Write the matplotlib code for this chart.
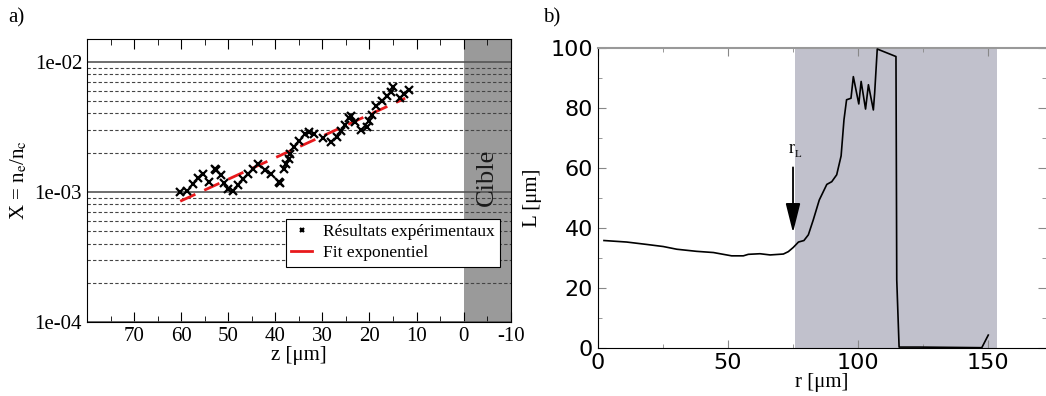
import numpy as np
import matplotlib
matplotlib.use('Agg')
import matplotlib.pyplot as plt
from matplotlib.ticker import FixedLocator, FixedFormatter, MultipleLocator, NullFormatter

plt.rcParams['mathtext.fontset'] = 'stix'
plt.rcParams['axes.unicode_minus'] = False

# ---- panel a) : densité en fonction de z
z_exp = [60.2, 58.8, 57.5, 56.5, 55.3, 54.0, 52.8, 52.5, 51.5, 50.9, 50.0, 49.0,
         47.9, 46.8, 45.8, 44.8, 43.6, 42.2, 40.9, 39.2, 39.0, 38.1, 37.7, 37.1,
         36.8, 36.1, 34.9, 33.7, 32.9, 31.7, 29.8, 28.1, 26.9, 26.1, 25.2, 24.4,
         24.0, 23.0, 21.8, 20.6, 20.0, 19.5, 18.6, 17.4, 16.3, 15.5, 14.9, 13.6,
         12.6, 11.7]
logx_exp = [-3.000, -2.990, -2.936, -2.897, -2.864, -2.923, -2.823, -2.833, -2.872, -2.931,
            -2.977, -2.997, -2.951, -2.905, -2.862, -2.823, -2.785, -2.833, -2.864, -2.923,
            -2.935, -2.828, -2.785, -2.751, -2.713, -2.654, -2.608, -2.559, -2.541, -2.559,
            -2.585, -2.618, -2.577, -2.529, -2.486, -2.430, -2.420, -2.462, -2.526, -2.500,
            -2.454, -2.410, -2.341, -2.305, -2.266, -2.233, -2.197, -2.276, -2.248, -2.220]
x_exp = [10 ** v for v in logx_exp]

# fit exponentiel (extrémités de la droite en échelle log)
z_fit = [60.2, 12.4]
x_fit = [8.47e-4, 5.24e-3]

ytick_vals = [1e-4, 1e-3, 1e-2]
ytick_labels = ['1e-04', '1e-03', '1e-02']

# ---- panel b) : L en fonction de r
r_vals = [2.3, 11, 18.7, 25.1, 30.3, 37.9, 44.4, 48.2, 51.4, 55.9, 57.8, 62.3, 66.2,
          71.3, 73.2, 75.1, 77.1, 79.2, 80.9, 82.8, 85.1, 88.0, 89.9, 91.8, 93.5, 94.6,
          95.6, 96.3, 97.3, 98.2, 100.3, 101.2, 102.9, 104.0, 105.9, 106.4, 107.4, 114.6,
          114.9, 115.8, 123.8, 147.6, 150.1]
L_vals = [35.7, 35.2, 34.4, 33.7, 32.8, 32.1, 31.7, 31.1, 30.6, 30.6, 31.1, 31.3, 30.9,
          31.2, 32.0, 33.4, 35.2, 35.7, 37.6, 42.6, 49.2, 54.4, 55.3, 57.6, 63.9, 75.9,
          82.6, 82.8, 83.1, 90.3, 81.2, 88.7, 79.5, 87.6, 79.2, 84.8, 99.5, 97.0,
          22.6, 0.2, 0.2, 0.0, 4.2]
zone_r = [75.8, 153.3]

serif = ['Liberation Serif', 'DejaVu Serif']

fig = plt.figure(figsize=(10.46, 3.96), dpi=100)

# ================= a)
ax1 = fig.add_axes([0.0832, 0.187, 0.405, 0.715])
ax1.set_yscale('log')
ax1.set_xlim(80, -10)
ax1.set_ylim(1e-4, 1.5e-2)

ax1.axvspan(0, -10, color='#9a9a9a', zorder=1, lw=0)
ax1.text(-5, 1.3e-3, 'Cible', rotation=90, ha='center', va='center',
         fontsize=19, family=serif, color='#1a1a1a', zorder=4)

ax1.plot(z_exp, x_exp, 'x', color='black', ms=6, mew=1.6,
         label='Résultats expérimentaux', zorder=5)
ax1.plot(z_fit, x_fit, color='#e8191c', lw=2, dashes=(6, 3.5),
         label='Fit exponentiel', zorder=4)

ax1.yaxis.set_major_locator(FixedLocator(ytick_vals))
ax1.yaxis.set_major_formatter(FixedFormatter(ytick_labels))
ax1.yaxis.set_minor_locator(FixedLocator([m * 10.0 ** e for e in (-4, -3) for m in range(2, 10)]))
ax1.yaxis.set_minor_formatter(NullFormatter())
ax1.grid(True, which='major', axis='y', color='#555555', lw=1.2, ls='-')
ax1.grid(True, which='minor', axis='y', color='#444444', lw=0.8, ls=(0, (3, 2)))

ax1.xaxis.set_major_locator(FixedLocator([70, 60, 50, 40, 30, 20, 10, 0, -10]))
ax1.xaxis.set_minor_locator(MultipleLocator(5))
ax1.tick_params(axis='x', which='both', direction='in', top=True, labelsize=15)
ax1.tick_params(axis='x', which='major', length=7)
ax1.tick_params(axis='x', which='minor', length=4)
ax1.tick_params(axis='y', which='both', length=0, labelsize=15)
for lab in ax1.get_xticklabels() + ax1.get_yticklabels():
    lab.set_family(serif)

ax1.set_xlabel('z [μm]', fontsize=15, family=serif, labelpad=0)
ax1.set_ylabel('X = n$_\\mathrm{e}$/n$_\\mathrm{c}$', fontsize=15, family=serif, labelpad=4)

leg = ax1.legend(loc='upper left', bbox_to_anchor=(0.47, 0.365),
                 prop={'family': serif, 'size': 12.5}, frameon=True, fancybox=False,
                 edgecolor='black', framealpha=1, borderpad=0.3, handlelength=1.2,
                 handletextpad=0.6, labelspacing=0.3, borderaxespad=0, markerscale=0.6)
leg.get_frame().set_linewidth(0.8)
leg.get_lines()[1].set_linestyle('-')

fig.text(0.008, 0.955, 'a)', fontsize=15, family=serif, va='center')

# ================= b)
ax2 = fig.add_axes([0.5717, 0.122, 0.4283, 0.758])
ax2.set_xlim(0, 172.3)
ax2.set_ylim(0, 100)
ax2.axvspan(zone_r[0], zone_r[1], color='#c1c1cc', lw=0, zorder=0)
ax2.plot(r_vals, L_vals, color='black', lw=1.2, zorder=3)

ax2.annotate('', xy=(75.0, 37.4), xytext=(75.0, 61.0),
             arrowprops=dict(arrowstyle='-|>,head_length=1.8,head_width=0.45',
                             color='black', lw=1.3), zorder=4)
ax2.text(75.5, 66.5, 'r', fontsize=13, family=serif, ha='right', va='center')
ax2.text(75.6, 64.5, 'L', fontsize=8, family=serif, ha='left', va='center')

ax2.xaxis.set_major_locator(MultipleLocator(50))
ax2.xaxis.set_minor_locator(MultipleLocator(25))
ax2.yaxis.set_major_locator(MultipleLocator(20))
ax2.yaxis.set_minor_locator(MultipleLocator(10))
ax2.tick_params(axis='both', which='both', direction='in', top=True, right=True,
                labelsize=16, color='#888888')
ax2.tick_params(which='major', length=6)
ax2.tick_params(which='minor', length=3)
ax2.spines['right'].set_visible(False)
ax2.spines['top'].set_color('#999999')
ax2.spines['top'].set_linewidth(1.5)

ax2.set_xlabel('r [μm]', fontsize=15, family=serif, labelpad=0)
ax2.set_ylabel('L [μm]', fontsize=15, family=serif, labelpad=6)

fig.text(0.519, 0.955, 'b)', fontsize=15, family=serif, va='center')

fig.savefig('out.png', dpi=100)
